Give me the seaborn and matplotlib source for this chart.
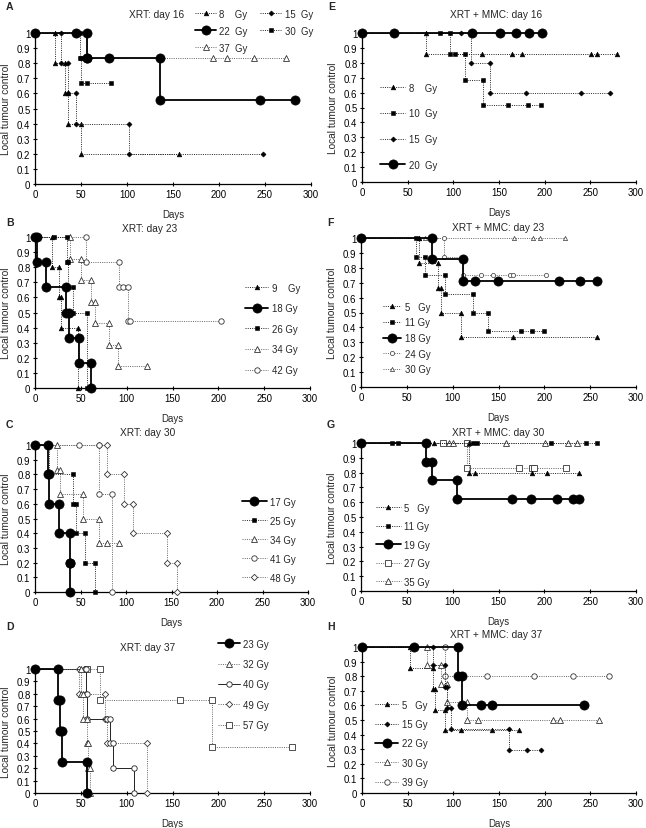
import matplotlib
matplotlib.use("Agg")
import matplotlib.pyplot as plt
import seaborn as sns

sns.set_style("ticks")
plt.rcParams['font.family'] = ['Liberation Sans', 'DejaVu Sans']

# ---------------- data ----------------
xticks = [0, 50, 100, 150, 200, 250, 300]
yticks = [0, 0.1, 0.2, 0.3, 0.4, 0.5, 0.6, 0.7, 0.8, 0.9, 1.0]
ytick_labels = ['0', '0.1', '0.2', '0.3', '0.4', '0.5', '0.6', '0.7', '0.8', '0.9', '1']

# Panel A  XRT: day 16
a8_x = [0, 22, 22, 33, 33, 36, 36, 50, 50, 156]
a8_y = [1, 1, 0.8, 0.8, 0.6, 0.6, 0.4, 0.4, 0.2, 0.2]
a15_x = [0, 28, 28, 36, 36, 45, 45, 102, 102, 248]
a15_y = [1, 1, 0.8, 0.8, 0.6, 0.6, 0.4, 0.4, 0.2, 0.2]
a22_x = [0, 45, 56, 56, 57, 80, 136, 136, 245, 283]
a22_y = [1, 1, 1, 0.833, 0.833, 0.833, 0.833, 0.556, 0.556, 0.556]
a30_x = [0, 49, 49, 50, 50, 57, 83]
a30_y = [1, 1, 0.833, 0.833, 0.667, 0.667, 0.667]
a37_x = [0, 57, 57, 193, 209, 238, 273]
a37_y = [1, 1, 0.833, 0.833, 0.833, 0.833, 0.833]

# Panel E  XRT + MMC: day 16
e8_x = [0, 70, 70, 131, 164, 175, 251, 257, 279]
e8_y = [1, 1, 0.857, 0.857, 0.857, 0.857, 0.857, 0.857, 0.857]
e10_x = [0, 85, 96, 96, 102, 113, 113, 133, 133, 160, 182, 196]
e10_y = [1, 1, 1, 0.857, 0.857, 0.857, 0.686, 0.686, 0.514, 0.514, 0.514, 0.514]
e15_x = [0, 108, 119, 119, 140, 140, 180, 240, 271]
e15_y = [1, 1, 1, 0.8, 0.8, 0.6, 0.6, 0.6, 0.6]
e20_x = [0, 35, 120, 151, 169, 183, 197]
e20_y = [1, 1, 1, 1, 1, 1, 1]

# Panel B  XRT: day 23
b9_x = [0, 18, 18, 26, 26, 28, 28, 47, 47]
b9_y = [1, 1, 0.8, 0.8, 0.6, 0.6, 0.4, 0.4, 0]
b18_x = [0, 2, 2, 12, 12, 34, 34, 37, 37, 48, 48, 61, 61]
b18_y = [1, 1, 0.833, 0.833, 0.667, 0.667, 0.5, 0.5, 0.333, 0.333, 0.167, 0.167, 0]
b26_x = [0, 21, 35, 35, 36, 36, 41, 41, 57, 57]
b26_y = [1, 1, 1, 0.833, 0.833, 0.667, 0.667, 0.5, 0.5, 0]
b34_x = [0, 38, 38, 50, 50, 61, 61, 65, 65, 81, 81, 90, 90, 122]
b34_y = [1, 1, 0.857, 0.857, 0.714, 0.714, 0.571, 0.571, 0.429, 0.429, 0.286, 0.286, 0.143, 0.143]
b42_x = [0, 56, 56, 92, 92, 96, 101, 101, 104, 203]
b42_y = [1, 1, 0.833, 0.833, 0.667, 0.667, 0.667, 0.444, 0.444, 0.444]

# Panel F  XRT + MMC: day 23
f5_x = [0, 63, 63, 84, 84, 87, 87, 109, 109, 166, 257]
f5_y = [1, 1, 0.833, 0.833, 0.667, 0.667, 0.5, 0.5, 0.333, 0.333, 0.333]
f11_x = [0, 60, 60, 70, 70, 92, 92, 122, 122, 138, 138, 175, 186, 200]
f11_y = [1, 1, 0.875, 0.875, 0.75, 0.75, 0.625, 0.625, 0.5, 0.5, 0.375, 0.375, 0.375, 0.375]
f18_x = [0, 77, 77, 111, 111, 124, 149, 216, 239, 257]
f18_y = [1, 1, 0.857, 0.857, 0.714, 0.714, 0.714, 0.714, 0.714, 0.714]
f24_x = [0, 91, 91, 111, 111, 131, 144, 163, 166, 202]
f24_y = [1, 1, 0.875, 0.875, 0.75, 0.75, 0.75, 0.75, 0.75, 0.75]
f30_x = [0, 63, 70, 167, 188, 195, 223]
f30_y = [1, 1, 1, 1, 1, 1, 1]

# Panel C  XRT: day 30
c17_x = [0, 14, 14, 15, 15, 26, 26, 38, 38, 39, 39]
c17_y = [1, 1, 0.8, 0.8, 0.6, 0.6, 0.4, 0.4, 0.2, 0.2, 0]
c25_x = [0, 15, 15, 42, 42, 45, 45, 55, 55, 66, 66]
c25_y = [1, 1, 0.8, 0.8, 0.6, 0.6, 0.4, 0.4, 0.2, 0.2, 0]
c34_x = [0, 24, 24, 28, 28, 53, 53, 70, 70, 79, 92]
c34_y = [1, 1, 0.833, 0.833, 0.667, 0.667, 0.5, 0.5, 0.333, 0.333, 0.333]
c41_x = [0, 48, 70, 70, 85, 85]
c41_y = [1, 1, 1, 0.667, 0.667, 0]
c48_x = [0, 70, 79, 79, 98, 98, 108, 108, 145, 145, 156, 156]
c48_y = [1, 1, 1, 0.8, 0.8, 0.6, 0.6, 0.4, 0.4, 0.2, 0.2, 0]

# Panel G  XRT + MMC: day 30
g5_x = [0, 80, 118, 118, 124, 186, 203, 238]
g5_y = [1, 1, 1, 0.8, 0.8, 0.8, 0.8, 0.8]
g11_x = [0, 34, 40, 122, 127, 207, 245, 257]
g11_y = [1, 1, 1, 1, 1, 1, 1, 1]
g19_x = [0, 71, 71, 77, 77, 105, 105, 165, 185, 214, 231, 238]
g19_y = [1, 1, 0.875, 0.875, 0.75, 0.75, 0.625, 0.625, 0.625, 0.625, 0.625, 0.625]
g27_x = [0, 89, 116, 116, 172, 186, 189, 224]
g27_y = [1, 1, 1, 0.833, 0.833, 0.833, 0.833, 0.833]
g35_x = [0, 96, 100, 158, 201, 226, 236]
g35_y = [1, 1, 1, 1, 1, 1, 1]

# Panel D  XRT: day 37
d23_x = [0, 25, 25, 27, 27, 29, 29, 57, 57]
d23_y = [1, 1, 0.75, 0.75, 0.5, 0.5, 0.25, 0.25, 0]
d32_x = [0, 50, 50, 52, 52, 57, 57, 58, 58, 60, 60]
d32_y = [1, 1, 0.8, 0.8, 0.6, 0.6, 0.4, 0.4, 0.2, 0.2, 0]
d40_x = [0, 54, 56, 56, 57, 57, 79, 82, 82, 85, 85, 108, 108]
d40_y = [1, 1, 1, 0.8, 0.8, 0.6, 0.6, 0.6, 0.4, 0.4, 0.2, 0.2, 0]
d49_x = [0, 48, 48, 76, 76, 79, 79, 122, 122]
d49_y = [1, 1, 0.8, 0.8, 0.6, 0.6, 0.4, 0.4, 0]
d57_x = [0, 57, 71, 71, 158, 193, 193, 280]
d57_y = [1, 1, 1, 0.75, 0.75, 0.75, 0.375, 0.375]

# Panel H  XRT + MMC: day 37
h5_x = [0, 53, 53, 78, 78, 80, 80, 91, 91, 108, 142, 172]
h5_y = [1, 1, 0.857, 0.857, 0.714, 0.714, 0.571, 0.571, 0.429, 0.429, 0.429, 0.429]
h15_x = [0, 78, 78, 91, 91, 93, 93, 97, 97, 161, 161, 181, 196]
h15_y = [1, 1, 0.875, 0.875, 0.729, 0.729, 0.583, 0.583, 0.437, 0.437, 0.292, 0.292, 0.292]
h22_x = [0, 57, 105, 105, 109, 109, 130, 142, 243]
h22_y = [1, 1, 1, 0.8, 0.8, 0.6, 0.6, 0.6, 0.6]
h30_x = [0, 71, 71, 87, 87, 93, 93, 115, 115, 127, 209, 217, 259]
h30_y = [1, 1, 0.875, 0.875, 0.75, 0.75, 0.625, 0.625, 0.5, 0.5, 0.5, 0.5, 0.5]
h39_x = [0, 91, 91, 137, 188, 231, 270]
h39_y = [1, 1, 0.8, 0.8, 0.8, 0.8, 0.8]

# ---------------- styles ----------------
DOT = (0, (1, 1.3))
STY = {
    'tri_f': dict(marker='^', markersize=3.4, markerfacecolor='black', markeredgecolor='black',
                  markeredgewidth=0.4, color='#222222', linestyle=DOT, linewidth=0.7, zorder=3),
    'sq_f': dict(marker='s', markersize=3.5, markerfacecolor='black', markeredgecolor='black',
                 markeredgewidth=0.4, color='#222222', linestyle=DOT, linewidth=0.7, zorder=3),
    'dia_f': dict(marker='D', markersize=2.6, markerfacecolor='black', markeredgecolor='black',
                  markeredgewidth=0.4, color='#222222', linestyle=DOT, linewidth=0.7, zorder=3),
    'big': dict(marker='o', markersize=6.6, markerfacecolor='black', markeredgecolor='black',
                markeredgewidth=0.5, color='black', linestyle='-', linewidth=1.3, zorder=4),
    'tri_o': dict(marker='^', markersize=3.9, markerfacecolor='white', markeredgecolor='#333333',
                  markeredgewidth=0.6, color='#666666', linestyle=DOT, linewidth=0.7, zorder=3),
    'circ_o': dict(marker='o', markersize=3.9, markerfacecolor='white', markeredgecolor='#333333',
                   markeredgewidth=0.6, color='#666666', linestyle=DOT, linewidth=0.7, zorder=3),
    'dia_o': dict(marker='D', markersize=3.2, markerfacecolor='white', markeredgecolor='#333333',
                  markeredgewidth=0.6, color='#666666', linestyle=DOT, linewidth=0.7, zorder=3),
    'sq_o': dict(marker='s', markersize=4.0, markerfacecolor='white', markeredgecolor='#333333',
                 markeredgewidth=0.6, color='#666666', linestyle=DOT, linewidth=0.7, zorder=3),
    'circ_o_small': dict(marker='o', markersize=3.0, markerfacecolor='white', markeredgecolor='#333333',
                         markeredgewidth=0.5, color='#666666', linestyle=DOT, linewidth=0.7, zorder=3),
    'tri_o_small': dict(marker='^', markersize=3.0, markerfacecolor='white', markeredgecolor='#333333',
                        markeredgewidth=0.5, color='#666666', linestyle=DOT, linewidth=0.7, zorder=3),
    'circ_o_solid': dict(marker='o', markersize=3.9, markerfacecolor='white', markeredgecolor='#222222',
                         markeredgewidth=0.6, color='#222222', linestyle='-', linewidth=0.7, zorder=3),
}

W, H = 646, 829
FS = 6.9
TFS = 7.3
fig = plt.figure(figsize=(W / 100, H / 100), dpi=100)


def add_ax(x0, x1, ytop, ybot):
    return fig.add_axes([x0 / W, 1 - ybot / H, (x1 - x0) / W, (ybot - ytop) / H])


def setup(ax, w, h):
    ax.set_xlim(0, 300)
    ax.set_ylim(0, 1)
    ax.set_xticks(xticks)
    ax.set_yticks(yticks)
    ax.set_yticklabels(ytick_labels)
    sns.despine(ax=ax)
    for s in ['left', 'bottom']:
        ax.spines[s].set_linewidth(0.9)
        ax.spines[s].set_color('black')
    ax.tick_params(axis='both', direction='inout', length=3.5, width=0.8, labelsize=FS,
                   pad=1.5, colors='black')
    ax.set_xlabel('Days', fontsize=FS)
    ax.set_ylabel('Local tumour control', fontsize=TFS)
    ax.xaxis.set_label_coords(0.5, -25 / h)
    ax.yaxis.set_label_coords(-24 / w, 0.5)
    ax.set_facecolor('none')


def draw(ax, x, y, label, style):
    sns.lineplot(x=x, y=y, ax=ax, sort=False, estimator=None, label=label,
                 clip_on=False, legend=False, **STY[style])


def legend(ax, order, hx, hy, ls, hl, ncol=1, colsp=1.5):
    handles, labels = ax.get_legend_handles_labels()
    d = dict(zip(labels, handles))
    ax.legend([d[k] for k in order], order, loc='upper left',
              bbox_to_anchor=(hx / W, 1 - (hy - 5.3) / H), bbox_transform=fig.transFigure,
              frameon=False, fontsize=FS, borderpad=0, borderaxespad=0,
              labelspacing=ls, handlelength=hl, handletextpad=0.35, ncol=ncol,
              columnspacing=colsp, numpoints=1)


panels = [
    # letter, title, axes box, title pos, letter pos
    ('A', 'XRT: day 16', (35, 311, 34, 185), (157, 15), (6, 7)),
    ('E', 'XRT + MMC: day 16', (362, 636, 34, 183), (496, 15), (328, 7)),
    ('B', 'XRT: day 23', (35, 310, 238, 389), (150, 229), (6, 223)),
    ('F', 'XRT + MMC: day 23', (361, 636, 239, 388), (498, 228), (327, 223)),
    ('C', 'XRT: day 30', (35, 308, 446, 593), (148, 433), (6, 425)),
    ('G', 'XRT + MMC: day 30', (361, 636, 444, 592), (498, 433), (327, 425)),
    ('D', 'XRT: day 37', (35, 310, 670, 794), (148, 648), (6, 627)),
    ('H', 'XRT + MMC: day 37', (362, 636, 648, 794), (496, 635), (327, 627)),
]

axes = {}
for letter, title, (x0, x1, yt, yb), (tx, ty), (lx, ly) in panels:
    ax = add_ax(x0, x1, yt, yb)
    setup(ax, x1 - x0, yb - yt)
    axes[letter] = ax
    fig.text(tx / W, 1 - ty / H, title, fontsize=TFS, ha='center', va='center')
    fig.text(lx / W, 1 - ly / H, letter, fontsize=7.6, fontweight='bold', ha='left', va='center')

# A
ax = axes['A']
draw(ax, a8_x, a8_y, '8    Gy', 'tri_f')
draw(ax, a15_x, a15_y, '15  Gy', 'dia_f')
draw(ax, a30_x, a30_y, '30  Gy', 'sq_f')
draw(ax, a37_x, a37_y, '37  Gy', 'tri_o')
draw(ax, a22_x, a22_y, '22  Gy', 'big')
legend(ax, ['8    Gy', '22  Gy', '37  Gy', '15  Gy', '30  Gy'], 195, 15, 0.73, 2.2, ncol=2, colsp=1.3)

# E
ax = axes['E']
draw(ax, e8_x, e8_y, '8    Gy', 'tri_f')
draw(ax, e10_x, e10_y, '10  Gy', 'sq_f')
draw(ax, e15_x, e15_y, '15  Gy', 'dia_f')
draw(ax, e20_x, e20_y, '20  Gy', 'big')
legend(ax, ['8    Gy', '10  Gy', '15  Gy', '20  Gy'], 380, 89, 1.63, 2.65)

# B
ax = axes['B']
draw(ax, b42_x, b42_y, '42 Gy', 'circ_o')
draw(ax, b34_x, b34_y, '34 Gy', 'tri_o')
draw(ax, b9_x, b9_y, '9    Gy', 'tri_f')
draw(ax, b26_x, b26_y, '26 Gy', 'sq_f')
draw(ax, b18_x, b18_y, '18 Gy', 'big')
legend(ax, ['9    Gy', '18 Gy', '26 Gy', '34 Gy', '42 Gy'], 245, 289, 1.10, 2.45)

# F
ax = axes['F']
draw(ax, f30_x, f30_y, '30 Gy', 'tri_o_small')
draw(ax, f24_x, f24_y, '24 Gy', 'circ_o_small')
draw(ax, f5_x, f5_y, '5   Gy', 'tri_f')
draw(ax, f11_x, f11_y, '11 Gy', 'sq_f')
draw(ax, f18_x, f18_y, '18 Gy', 'big')
legend(ax, ['5   Gy', '11 Gy', '18 Gy', '24 Gy', '30 Gy'], 383, 308, 0.59, 1.9)

# C
ax = axes['C']
draw(ax, c48_x, c48_y, '48 Gy', 'dia_o')
draw(ax, c41_x, c41_y, '41 Gy', 'circ_o')
draw(ax, c34_x, c34_y, '34 Gy', 'tri_o')
draw(ax, c25_x, c25_y, '25 Gy', 'sq_f')
draw(ax, c17_x, c17_y, '17 Gy', 'big')
legend(ax, ['17 Gy', '25 Gy', '34 Gy', '41 Gy', '48 Gy'], 242, 503, 0.94, 2.6)

# G
ax = axes['G']
draw(ax, g35_x, g35_y, '35 Gy', 'tri_o')
draw(ax, g27_x, g27_y, '27 Gy', 'sq_o')
draw(ax, g5_x, g5_y, '5   Gy', 'tri_f')
draw(ax, g11_x, g11_y, '11 Gy', 'sq_f')
draw(ax, g19_x, g19_y, '19 Gy', 'big')
legend(ax, ['5   Gy', '11 Gy', '19 Gy', '27 Gy', '35 Gy'], 376, 509, 0.89, 2.6)

# D
ax = axes['D']
draw(ax, d57_x, d57_y, '57 Gy', 'sq_o')
draw(ax, d49_x, d49_y, '49 Gy', 'dia_o')
draw(ax, d40_x, d40_y, '40 Gy', 'circ_o_solid')
draw(ax, d32_x, d32_y, '32 Gy', 'tri_o')
draw(ax, d23_x, d23_y, '23 Gy', 'big')
legend(ax, ['23 Gy', '32 Gy', '40 Gy', '49 Gy', '57 Gy'], 218, 645, 1.08, 2.3)

# H
ax = axes['H']
draw(ax, h39_x, h39_y, '39 Gy', 'circ_o')
draw(ax, h30_x, h30_y, '30 Gy', 'tri_o')
draw(ax, h5_x, h5_y, '5   Gy', 'tri_f')
draw(ax, h15_x, h15_y, '15 Gy', 'dia_f')
draw(ax, h22_x, h22_y, '22 Gy', 'big')
legend(ax, ['5   Gy', '15 Gy', '22 Gy', '30 Gy', '39 Gy'], 375, 706, 0.97, 2.45)

fig.savefig('out.png', dpi=100)
